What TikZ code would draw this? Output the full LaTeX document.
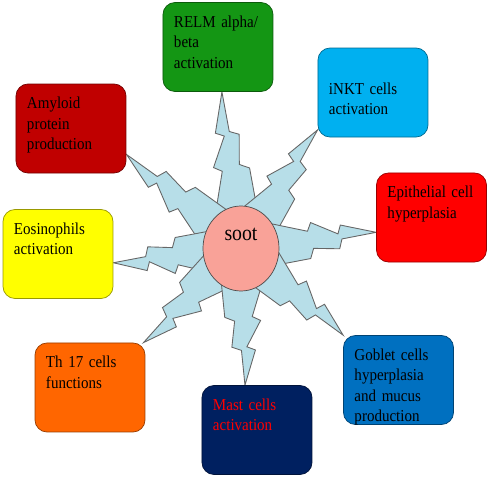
\documentclass[tikz,border=0pt]{standalone}
\usepackage{fontspec}
\setmainfont[FakeStretch=0.9]{Liberation Serif}
\usetikzlibrary{shapes.geometric,calc}

\definecolor{relmgreen}{RGB}{20,150,20}
\definecolor{amyred}{RGB}{192,0,0}
\definecolor{inktblue}{RGB}{0,176,240}
\definecolor{epired}{RGB}{255,0,0}
\definecolor{eosyellow}{RGB}{255,255,0}
\definecolor{thorange}{RGB}{255,102,0}
\definecolor{mastnavy}{RGB}{0,32,96}
\definecolor{gobblue}{RGB}{0,112,192}
\definecolor{sootpink}{RGB}{249,162,152}
\definecolor{boltblue}{RGB}{183,222,232}

\pgfdeclarelayer{bolts}
\pgfsetlayers{bolts,main}

\tikzset{
  cellbox/.style={draw=#1!60!black, fill=#1, rounded corners=0.24cm, align=left,
    text width=1.76cm, inner xsep=0.22cm, inner ysep=0.25cm,
    text height=7pt, text depth=1.034cm, font=\fontsize{9.5}{11.6}\selectfont},
  sootdisc/.style={ellipse, draw=black!70, fill=sootpink, inner sep=0pt,
    minimum width=1.52cm, minimum height=1.7cm, text depth=0.55cm,
    font=\fontsize{12.5}{14}\selectfont},
  zapshape/.style={fill=boltblue, draw=black!60, line width=0.5pt}
}

% lightning bolt from the centre of #1 to the point #2
\newcommand\zap[2]{%
  \path let \p1=($(#2)-(#1)$) in
    \pgfextra{\pgfmathparse{veclen(\x1,\y1)}\xdef\zaplen{\pgfmathresult}%
      \pgfmathparse{atan2(\y1,\x1)}\xdef\zapang{\pgfmathresult}};
  \begin{scope}[shift={(#1)}, rotate=\zapang, x=\zaplen pt, y=1cm]
    \filldraw[zapshape] (0,.64) -- (.5,.185) -- (.53,.35) -- (.72,.06) -- (.745,.23) -- (1,0)
      -- (.745,-.05) -- (.72,-.24) -- (.53,-.17) -- (.5,-.365) -- (0,-.46) -- cycle;
  \end{scope}}

\begin{document}
\begin{tikzpicture}
 \useasboundingbox (0,0) rectangle (9.8,9.6);

 \node[sootdisc] (soot) at (4.82,4.63) {soot};

 \node[cellbox=relmgreen] (relm) at (4.36,8.66) {RELM alpha/\\beta\\activation};
 \node[cellbox=amyred] (amyloid) at (1.42,7.03) {Amyloid\\protein\\production};
 \node[cellbox=inktblue, text height=0.67cm, text depth=0.61cm] (inkt) at (7.46,7.75) {iNKT cells\\activation};
 \node[cellbox=epired] (epi) at (8.63,5.25) {Epithelial cell\\hyperplasia};
 \node[cellbox=eosyellow] (eos) at (1.16,4.52) {Eosinophils\\activation};
 \node[cellbox=thorange] (th) at (1.80,1.85) {Th 17 cells\\functions};
 \node[cellbox=mastnavy, text=red] (mast) at (5.14,1.00) {Mast cells\\activation};
 \node[cellbox=gobblue] (gob) at (7.97,2.00) {Goblet cells\\hyperplasia\\and mucus\\production};

 \begin{pgfonlayer}{bolts}
  \zap{soot}{relm.-85}
  \zap{soot}{amyloid.-25}
  \zap{soot}{inkt.214}
  \zap{soot}{epi.195}
  \zap{soot}{eos.-9}
  \zap{soot}{th.40}
  \zap{soot}{mast.105}
  \zap{soot}{gob.141}
 \end{pgfonlayer}
\end{tikzpicture}
\end{document}
